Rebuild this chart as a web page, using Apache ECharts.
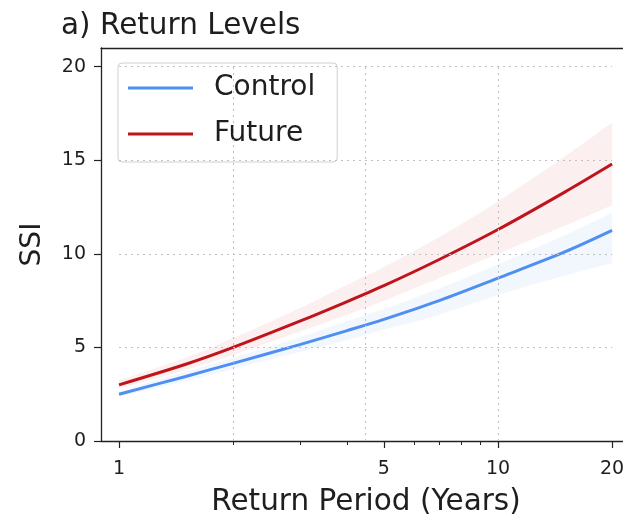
<!DOCTYPE html>
<html>
<head>
<meta charset="utf-8">
<script src="https://cdn.jsdelivr.net/npm/echarts@6/dist/echarts.min.js"></script>
<style>html,body{margin:0;padding:0;background:#fff;overflow:hidden;}#c{width:623px;height:519px;}</style>
</head>
<body>
<div id="c"></div>
<script>
// ---- data ----
const returnPeriods = [1, 1.5, 2, 3, 4, 5, 7, 10, 15, 20];
const controlMean  = [2.5, 3.45, 4.15, 5.15, 5.9, 6.5, 7.5, 8.7, 10.1, 11.25];
const controlLower = [2.35, 3.2, 3.85, 4.75, 5.4, 5.95, 6.75, 7.8, 8.85, 9.5];
const controlUpper = [2.65, 3.7, 4.45, 5.55, 6.4, 7.05, 8.15, 9.45, 11.0, 12.2];
const futureMean   = [3.0, 4.1, 5.0, 6.4, 7.45, 8.3, 9.7, 11.3, 13.3, 14.8];
const futureLower  = [2.8, 3.8, 4.6, 5.85, 6.75, 7.5, 8.7, 10.0, 11.5, 12.6];
const futureUpper  = [3.25, 4.45, 5.5, 7.1, 8.35, 9.3, 10.9, 12.8, 15.2, 17.0];
const xMajorTicks = [1, 5, 10, 20];
const xMinorTicks = [2, 3, 4, 6, 7, 8, 9];
const yTicks = [0, 5, 10, 15, 20];
const xGridLines = [2, 4.47, 10];
const yGridLines = [5, 10, 15, 20];

// ---- build ----
const lg = v => Math.log10(v);
const pts = ys => returnPeriods.map((t, i) => [lg(t), ys[i]]);
// value first, x second -> stacking happens on the y value
const ptsYX = ys => returnPeriods.map((t, i) => [ys[i], lg(t)]);
const diffYX = (hi, lo) => returnPeriods.map((t, i) => [hi[i] - lo[i], lg(t)]);

const FONT = 'DejaVu Sans';
const INK = '#1e1e1e';
const BLUE = '#4f8ff2';
const RED = '#c0141d';
const xMin = -0.0475, pxPerDecade = 379, plotW = 530;
const xMax = xMin + plotW / pxPerDecade;

const gridLineData = [];
xGridLines.forEach(v => gridLineData.push([{coord: [lg(v), 0]}, {coord: [lg(v), 20]}]));
yGridLines.forEach(v => gridLineData.push([{coord: [lg(1), v]}, {coord: [lg(20), v]}]));

const bandBase = {type: 'line', smooth: 0.3, symbol: 'none', silent: true, z: 1,
                  encode: {x: 1, y: 0}, lineStyle: {opacity: 0}};

const chart = echarts.init(document.getElementById('c'), null, {renderer: 'canvas'});
chart.setOption({
  animation: false,
  backgroundColor: '#fff',
  textStyle: {fontFamily: FONT},
  title: {
    text: 'a) Return Levels', left: 61, top: 11, padding: 0,
    textStyle: {fontFamily: FONT, fontSize: 29.5, fontWeight: 'normal', color: INK}
  },
  grid: {left: 101, width: plotW, top: 48, bottom: 78, show: false,
         containLabel: false, outerBoundsMode: 'none'},
  legend: {
    data: ['Control', 'Future'],
    orient: 'vertical', left: 118, top: 63,
    padding: [11, 22, 14, 10], itemGap: 18,
    itemWidth: 65, itemHeight: 3, icon: 'rect',
    borderColor: '#d0d0d0', borderWidth: 1, borderRadius: 4,
    backgroundColor: 'rgba(255,255,255,0.85)',
    textStyle: {fontFamily: FONT, fontSize: 28, lineHeight: 28, color: INK, padding: [0, 0, 0, 16]}
  },
  xAxis: [{
    type: 'value', min: xMin, max: xMax, position: 'bottom',
    name: 'Return Period (Years)', nameLocation: 'middle', nameGap: 46,
    nameTextStyle: {fontFamily: FONT, fontSize: 29.5, color: INK},
    axisLine: {show: true, onZero: false, lineStyle: {color: '#222', width: 1.3}},
    axisTick: {show: true, length: 7, customValues: xMajorTicks.map(lg), lineStyle: {color: '#222', width: 1.2}},
    axisLabel: {
      customValues: xMajorTicks.map(lg), margin: 19,
      fontFamily: FONT, fontSize: 19, color: INK,
      formatter: v => String(Math.round(Math.pow(10, v)))
    },
    splitLine: {show: false}
  }, {
    type: 'value', min: xMin, max: xMax, position: 'bottom',
    axisLine: {show: false, onZero: false},
    axisTick: {show: true, length: 4, customValues: xMinorTicks.map(lg), lineStyle: {color: '#222', width: 1}},
    axisLabel: {show: false},
    splitLine: {show: false}
  }, {
    type: 'value', min: xMin, max: xMax, position: 'top',
    axisLine: {show: true, onZero: false, lineStyle: {color: '#222', width: 1.3}},
    axisTick: {show: false}, axisLabel: {show: false}, splitLine: {show: false}
  }],
  yAxis: {
    type: 'value', min: 0, max: 21,
    name: 'SSI', nameLocation: 'middle', nameGap: 54,
    nameTextStyle: {fontFamily: FONT, fontSize: 28, color: INK},
    axisLine: {show: true, onZero: false, lineStyle: {color: '#222', width: 1.3}},
    axisTick: {show: true, length: 7, customValues: yTicks, lineStyle: {color: '#222', width: 1.2}},
    axisLabel: {customValues: yTicks, margin: 15, fontFamily: FONT, fontSize: 19, color: INK},
    splitLine: {show: false}
  },
  series: [
    {
      name: 'gridlines', type: 'line', data: [], silent: true,
      markLine: {
        silent: true, symbol: 'none', label: {show: false},
        lineStyle: {type: [2, 4], color: '#c0c0c0', width: 1.1},
        data: gridLineData
      }
    },
    Object.assign({name: 'cLo', stack: 'cb', data: ptsYX(controlLower)}, bandBase),
    Object.assign({name: 'cBand', stack: 'cb', data: diffYX(controlUpper, controlLower),
                   areaStyle: {color: 'rgba(110,165,245,0.13)'}}, bandBase),
    Object.assign({name: 'fLo', stack: 'fb', data: ptsYX(futureLower)}, bandBase),
    Object.assign({name: 'fBand', stack: 'fb', data: diffYX(futureUpper, futureLower),
                   areaStyle: {color: 'rgba(235,130,130,0.18)'}}, bandBase),
    {name: 'Control', type: 'line', data: pts(controlMean), smooth: 0.3, symbol: 'none',
     color: BLUE, lineStyle: {color: BLUE, width: 3}, z: 3},
    {name: 'Future', type: 'line', data: pts(futureMean), smooth: 0.3, symbol: 'none',
     color: RED, lineStyle: {color: RED, width: 3}, z: 3}
  ]
});
</script>
</body>
</html>
